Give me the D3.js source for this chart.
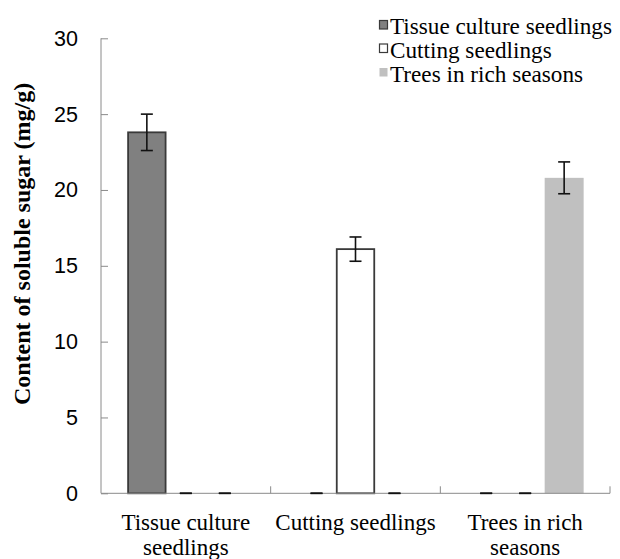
<!DOCTYPE html>
<html>
<head>
<meta charset="utf-8">
<script src="https://cdn.jsdelivr.net/npm/d3@7"></script>
<style>
  html, body { margin: 0; padding: 0; background: #fff; }
  svg { display: block; }
</style>
</head>
<body>
<svg id="chart" width="620" height="559"></svg>
<script>
const categories = ["Tissue culture seedlings", "Cutting seedlings", "Trees in rich seasons"];
const categoryLabelLines = [["Tissue culture", "seedlings"], ["Cutting seedlings"], ["Trees in rich", "seasons"]];
const seriesNames = ["Tissue culture seedlings", "Cutting seedlings", "Trees in rich seasons"];
const tissueValues = [23.8, 0, 0];
const tissueErrors = [1.2, 0, 0];
const cuttingValues = [0, 16.1, 0];
const cuttingErrors = [0, 0.8, 0];
const treesValues = [0, 0, 20.8];
const treesErrors = [0, 0, 1.05];
const yTicks = [0, 5, 10, 15, 20, 25, 30];
const yTitle = "Content of soluble sugar (mg/g)";

const seriesValues = [tissueValues, cuttingValues, treesValues];
const seriesErrors = [tissueErrors, cuttingErrors, treesErrors];
const seriesStyle = [
  { fill: "#808080", stroke: "#3a3a3a" },
  { fill: "#ffffff", stroke: "#3a3a3a" },
  { fill: "#c0c0c0", stroke: "none" }
];

const svg = d3.select("#chart");
const plotLeft = 101, plotRight = 610, plotTop = 38.3, plotBottom = 493.3;
const axisColor = "#8a8a8a";

const x0 = d3.scaleBand().domain(categories).range([plotLeft, plotRight]).paddingInner(0).paddingOuter(0);
const x1 = d3.scaleBand().domain(seriesNames).range([0, x0.bandwidth()]).paddingInner(0).paddingOuter(0.676);
const y = d3.scaleLinear().domain([0, 30]).range([plotBottom, plotTop]);

// Bars
seriesNames.forEach((s, si) => {
  const g = svg.append("g");
  const hasStroke = seriesStyle[si].stroke !== "none";
  g.selectAll("rect").data(categories.map((c, ci) => ({ c, v: seriesValues[si][ci] })).filter(d => d.v > 0))
    .join("rect")
    .attr("x", d => x0(d.c) + x1(s) + (hasStroke ? 0.75 : 0))
    .attr("y", d => y(d.v))
    .attr("width", x1.bandwidth() - (hasStroke ? 1.5 : 0))
    .attr("height", d => y(0) - y(d.v))
    .attr("fill", seriesStyle[si].fill)
    .attr("stroke", seriesStyle[si].stroke)
    .attr("stroke-width", 1.8);
});

// Axes
const yAxis = d3.axisLeft(y).tickValues(yTicks).tickSize(-7).tickPadding(23).tickFormat(d3.format("d"));
const gy = svg.append("g").attr("transform", `translate(${plotLeft},0)`).call(yAxis);
gy.select(".domain").attr("stroke", axisColor).attr("d", `M0,${plotTop}V${plotBottom}`);
gy.selectAll(".tick line").attr("stroke", axisColor);
gy.selectAll(".tick text").attr("font-family", "Liberation Sans, Arial, sans-serif").attr("font-size", 21.5).attr("fill", "#000");

const gx = svg.append("g").attr("transform", `translate(0,${plotBottom})`);
gx.append("line").attr("x1", plotLeft).attr("x2", plotRight).attr("stroke", axisColor);
const boundaries = categories.map(c => x0(c) + x0.bandwidth());
gx.selectAll("line.b").data(boundaries).join("line").attr("class", "b")
  .attr("x1", d => d).attr("x2", d => d).attr("y1", 0).attr("y2", -7).attr("stroke", axisColor);

// Error bars (including zero-value ones)
const cap = 12;
seriesNames.forEach((s, si) => {
  categories.forEach((c, ci) => {
    const v = seriesValues[si][ci], e = seriesErrors[si][ci];
    const cx = x0(c) + x1(s) + x1.bandwidth() / 2;
    const g = svg.append("g").attr("stroke", "#111").attr("stroke-width", 1.6);
    g.append("line").attr("x1", cx).attr("x2", cx).attr("y1", y(v - e)).attr("y2", y(v + e));
    g.append("line").attr("x1", cx - cap / 2).attr("x2", cx + cap / 2).attr("y1", y(v + e)).attr("y2", y(v + e));
    g.append("line").attr("x1", cx - cap / 2).attr("x2", cx + cap / 2).attr("y1", y(Math.max(0, v - e))).attr("y2", y(Math.max(0, v - e)));
  });
});

// X labels
const serif = "Liberation Serif, 'Times New Roman', serif";
categories.forEach((c, ci) => {
  const cxl = x0(c) + x0.bandwidth() / 2;
  const t = svg.append("text")
    .attr("x", cxl)
    .attr("y", 530)
    .attr("text-anchor", "middle")
    .attr("font-family", serif)
    .attr("font-size", 23)
    .attr("fill", "#000");
  categoryLabelLines[ci].forEach((line, li) => {
    t.append("tspan").attr("x", cxl).attr("dy", li === 0 ? 0 : 24.5).text(line);
  });
});

// Y title
svg.append("text")
  .attr("transform", `translate(30,244) rotate(-90)`)
  .attr("text-anchor", "middle")
  .attr("font-family", serif)
  .attr("font-weight", "bold")
  .attr("font-size", 24)
  .attr("fill", "#000")
  .text(yTitle);

// Legend
const legendBaselines = [34, 57.5, 81.5];
seriesNames.forEach((s, si) => {
  const g = svg.append("g");
  g.append("rect")
    .attr("x", 379.5).attr("y", legendBaselines[si] - 13.5)
    .attr("width", 8).attr("height", 8.5)
    .attr("fill", seriesStyle[si].fill)
    .attr("stroke", seriesStyle[si].stroke === "none" ? "none" : "#3a3a3a")
    .attr("stroke-width", 1.2);
  g.append("text")
    .attr("x", 390).attr("y", legendBaselines[si])
    .attr("font-family", serif)
    .attr("font-size", 23.2)
    .attr("fill", "#000")
    .text(s);
});
</script>
</body>
</html>
